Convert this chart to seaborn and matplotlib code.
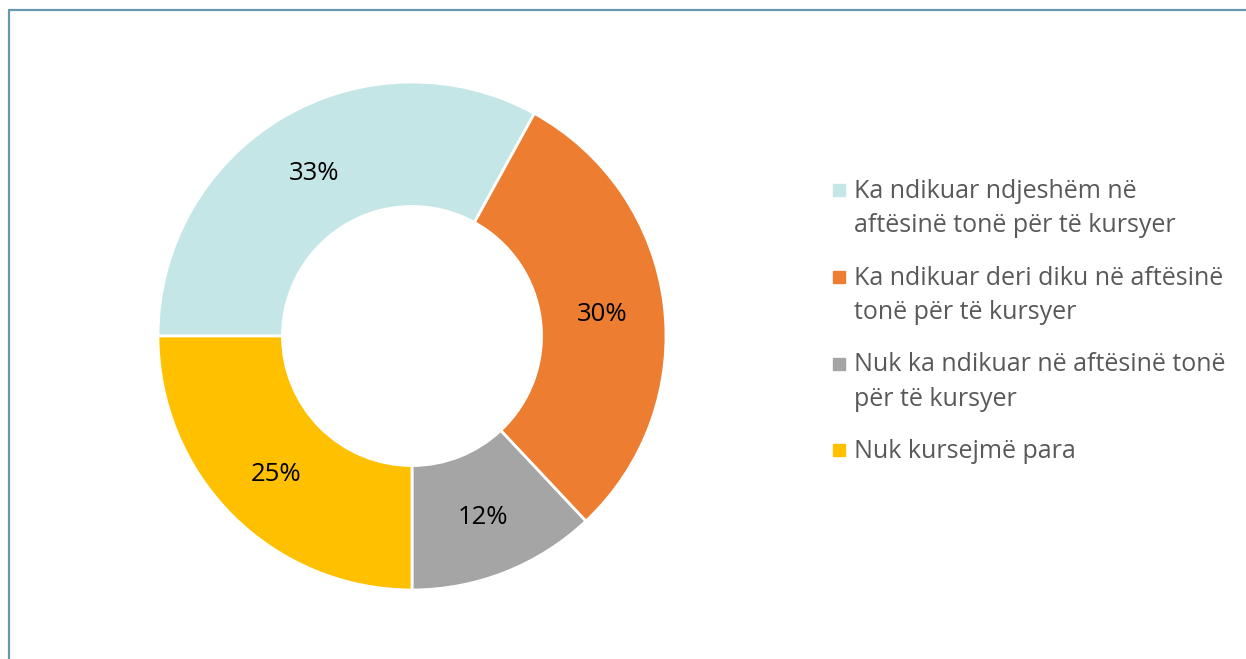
import matplotlib.pyplot as plt
import seaborn as sns
from matplotlib.lines import Line2D

sns.set_theme(style="white")
plt.rcParams['font.family'] = ['Open Sans', 'DejaVu Sans']

# --- Dados ---
categorias = [
    "Ka ndikuar ndjeshëm në\naftësinë tonë për të kursyer",
    "Ka ndikuar deri diku në aftësinë\ntonë për të kursyer",
    "Nuk ka ndikuar në aftësinë tonë\npër të kursyer",
    "Nuk kursejmë para",
]
valores = [33, 30, 12, 25]
cores = sns.color_palette(["#c5e6e6", "#ed7d31", "#a5a5a5", "#ffc000"])

W, H = 1246, 659
fig = plt.figure(figsize=(W / 100, H / 100), dpi=100)

# donut: centro (412, 336) px, raio 254 px
cx, cy, r = 412, 336, 254
ax = fig.add_axes([(cx - r) / W, (H - cy - r) / H, 2 * r / W, 2 * r / H])

wedges, _, autotexts = ax.pie(
    valores, colors=cores, startangle=180, counterclock=False,
    autopct='%1.0f%%', pctdistance=0.755,
    wedgeprops=dict(width=0.49, edgecolor='white', linewidth=2),
    textprops=dict(fontsize=18.5, color='black'),
)
for t in autotexts:
    t.set_va('center_baseline')
ax.set_xlim(-1, 1)
ax.set_ylim(-1, 1)
ax.set_aspect('equal')
ax.axis('off')

# --- Legenda ---
handles = [Line2D([0], [0], marker='s', linestyle='none', markersize=9,
                  markerfacecolor=c, markeredgecolor=c) for c in cores]
leg = fig.legend(
    handles, categorias, loc='upper left', bbox_to_anchor=(833 / W, 1 - 179 / H),
    frameon=False, fontsize=18, labelspacing=1.09, handlelength=0.5,
    handleheight=1.35, handletextpad=0.34, borderpad=0, borderaxespad=0,
)
for t in leg.get_texts():
    t.set_color('#595959')
    t.set_linespacing(1.5)
# marcador alinhado com a primeira linha do texto
for col in leg._legend_handle_box.get_children():
    for item in col.get_children():
        item.align = "top"

# moldura (esquerda e topo)
borda = '#6897b0'
fig.add_artist(Line2D([8.5 / W, 8.5 / W], [0, 1 - 10 / H], color=borda, lw=1.6))
fig.add_artist(Line2D([8.5 / W, 1], [1 - 10 / H, 1 - 10 / H], color=borda, lw=1.6))

plt.savefig("out.png", dpi=100)
plt.close()
